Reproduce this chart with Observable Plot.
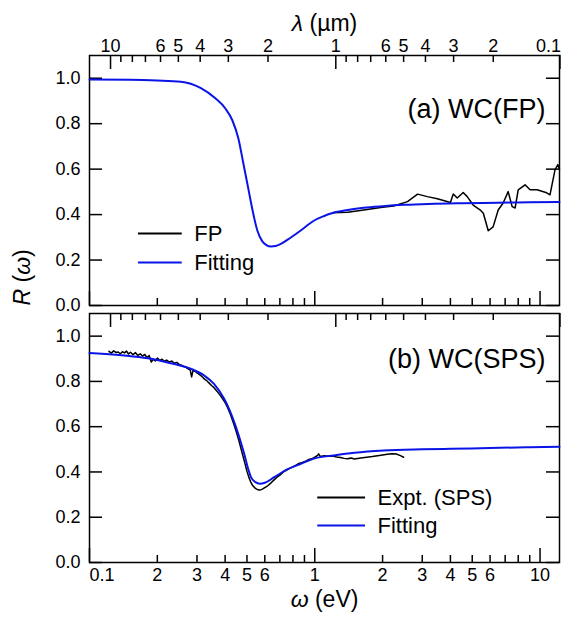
<!DOCTYPE html>
<html><head><meta charset="utf-8">
<script src="https://cdn.jsdelivr.net/npm/d3@7"></script>
<script src="https://cdn.jsdelivr.net/npm/@observablehq/plot@0.6"></script>
<style>
body{margin:0;background:#fff;}
#chart{position:relative;width:561px;height:621px;font-family:"Liberation Sans",Arial,sans-serif;}
#chart svg{position:absolute;left:0;overflow:visible;background:transparent;}
</style></head><body><div id="chart"></div><script>
const hc = 1.23984; // eV·µm

// ---- Panel (a): FP data and fit ----
const fitA_w = [0.1,0.15,0.2,0.254,0.311,0.362,0.401,0.431,0.458,0.482,0.508,0.529,0.556,0.585,0.61,0.64,0.67,0.704,0.78,0.866,0.93,0.99,1.1,1.2,1.4,1.65,2.0,2.5,3.2,4.5,6.5,9,12.2];
const fitA_R = [0.994,0.993,0.99,0.985,0.958,0.912,0.867,0.814,0.735,0.625,0.51,0.42,0.33,0.282,0.266,0.26,0.262,0.27,0.298,0.33,0.354,0.373,0.394,0.407,0.42,0.43,0.437,0.443,0.447,0.45,0.452,0.454,0.455];
const fpW = [1.2,1.4,1.65,2.0,2.24,2.58,2.86,3.16,3.5,4.0,4.12,4.29,4.56,4.75,5.05,5.43,5.6,5.89,6.19,6.52,6.86,7.22,7.52,7.75,8.0,8.58,9.03,9.7,10.7,11.07,11.65,12.0,12.2];
const fpR = [0.408,0.41,0.42,0.432,0.438,0.457,0.49,0.479,0.47,0.453,0.491,0.473,0.497,0.479,0.442,0.42,0.406,0.329,0.346,0.42,0.451,0.501,0.435,0.429,0.509,0.531,0.509,0.509,0.496,0.487,0.597,0.62,0.6];

// ---- Panel (b): SPS data and fit ----
const fitB_w = [0.1,0.15,0.188,0.23,0.283,0.323,0.357,0.396,0.42,0.447,0.47,0.486,0.504,0.521,0.545,0.57,0.6,0.661,0.75,0.867,1.0,1.214,1.5,2.02,3.0,4.0,6,9,12.2];
const fitB_R = [0.925,0.912,0.9,0.88,0.855,0.826,0.789,0.723,0.67,0.598,0.53,0.48,0.42,0.377,0.355,0.348,0.352,0.377,0.41,0.436,0.46,0.473,0.485,0.495,0.5,0.502,0.506,0.509,0.511];
const spsW = [0.122,0.125,0.128,0.131,0.134,0.137,0.14,0.143,0.146,0.149,0.152,0.156,0.16,0.164,0.168,0.172,0.176,0.18,0.184,0.188,0.192,0.196,0.2,0.205,0.21,0.215,0.22,0.226,0.232,0.238,0.244,0.25,0.256,0.262,0.268,0.274,0.28,0.284,0.288,0.294,0.3,0.306,0.312,0.318,0.324,0.33,0.336,0.342,0.348,0.354,0.36,0.368,0.376,0.384,0.392,0.4,0.41,0.42,0.43,0.44,0.45,0.46,0.47,0.48,0.49,0.5,0.51,0.52,0.53,0.54,0.55,0.56,0.57,0.58,0.59,0.6,0.62,0.64,0.66,0.68,0.7,0.73,0.76,0.79,0.82,0.85,0.88,0.91,0.94,0.97,1.0,1.03,1.04,1.06,1.1,1.15,1.2,1.25,1.3,1.35,1.4,1.45,1.5,1.6,1.7,1.8,1.9,2.0,2.1,2.2,2.3,2.4,2.48];
const spsR = [0.933,0.925,0.935,0.928,0.93,0.922,0.931,0.926,0.934,0.921,0.929,0.918,0.927,0.915,0.922,0.912,0.919,0.905,0.914,0.886,0.898,0.89,0.903,0.893,0.898,0.889,0.894,0.885,0.89,0.88,0.884,0.875,0.872,0.866,0.862,0.855,0.85,0.82,0.848,0.845,0.838,0.832,0.826,0.818,0.81,0.805,0.797,0.79,0.782,0.776,0.768,0.757,0.745,0.733,0.72,0.706,0.685,0.66,0.632,0.603,0.572,0.54,0.505,0.47,0.437,0.403,0.376,0.355,0.34,0.331,0.325,0.321,0.32,0.322,0.326,0.331,0.34,0.352,0.365,0.377,0.386,0.402,0.412,0.42,0.428,0.438,0.442,0.447,0.455,0.458,0.465,0.473,0.48,0.468,0.472,0.469,0.47,0.466,0.464,0.46,0.458,0.462,0.457,0.462,0.465,0.468,0.472,0.475,0.478,0.48,0.479,0.472,0.465];

// ---- Ticks ----
const omegaLabelTicks = [0.2,0.3,0.4,0.5,0.6,1,2,3,4,5,6,10];
const omegaEdgeLabel = [0.1];
const omegaMajor = [0.1,1,10];
const omegaMinor = [0.2,0.3,0.4,0.5,0.6,0.7,0.8,0.9,2,3,4,5,6,7,8,9];
const lambdaLabelTicks = [10,6,5,4,3,2,1,0.6,0.5,0.4,0.3,0.2];
const lambdaEdgeLabel = [0.1];
const lambdaMajor = [10,1,0.1];
const lambdaMinor = [9,8,7,6,5,4,3,2,0.9,0.8,0.7,0.6,0.5,0.4,0.3,0.2];
const yTicks = [0,0.2,0.4,0.6,0.8,1.0];

const BLUE = "#0a14e6";
const legendA = [{label:"FP", color:"black"},{label:"Fitting", color:BLUE}];
const legendB = [{label:"Expt. (SPS)", color:"black"},{label:"Fitting", color:BLUE}];

const W = 561, ML = 89, MR = 2, PW = W - ML - MR;
const X_DOMAIN = [0.1, 12.2];
const Y_DOMAIN = [0, 1.1];
const MAJ = 14, MIN = 7, YT = 13;
const FONT = "Liberation Sans, Arial, sans-serif";
const TICKFS = 18, LEGFS = 22, TITLEFS = 27, AXFS = 23;

const toRows = (ws, rs) => ws.map((w, i) => ({w, R: rs[i]}));
const decFmt = d => d < 1 ? String(Math.round(d * 10)) : String(d);
const lam = l => hc / l;

function frameMarks(PH) {
  const m = [];
  m.push(Plot.frame({stroke: "black", strokeWidth: 1.5}));
  m.push(Plot.tickX(omegaMajor, {x: d => d, insetTop: PH - MAJ, stroke: "black", strokeWidth: 1.5}));
  m.push(Plot.tickX(omegaMinor, {x: d => d, insetTop: PH - MIN, stroke: "black", strokeWidth: 1.5}));
  m.push(Plot.tickX(lambdaMajor, {x: lam, insetBottom: PH - MAJ, stroke: "black", strokeWidth: 1.5}));
  m.push(Plot.tickX(lambdaMinor, {x: lam, insetBottom: PH - MIN, stroke: "black", strokeWidth: 1.5}));
  m.push(Plot.tickY(yTicks, {y: d => d, insetRight: PW - YT, stroke: "black", strokeWidth: 1.5}));
  m.push(Plot.tickY(yTicks, {y: d => d, insetLeft: PW - YT, stroke: "black", strokeWidth: 1.5}));
  m.push(Plot.text(yTicks, {y: d => d, text: d3.format(".1f"), frameAnchor: "left", dx: -9, textAnchor: "end", fontSize: TICKFS, fill: "black"}));
  return m;
}

function legendMarks(rows, x1, x2, ys) {
  const data = rows.map((r, i) => ({...r, y: ys[i]}));
  return [
    Plot.ruleY(data, {y: "y", x1: () => x1, x2: () => x2, stroke: "color", strokeWidth: 2}),
    Plot.text(data, {x: () => x2, y: "y", text: "label", textAnchor: "start", dx: 12, fontSize: LEGFS, fill: "black"})
  ];
}

// ---------- top panel ----------
const PH_A = 250;
const plotA = Plot.plot({
  width: W, height: 309, marginLeft: ML, marginRight: MR, marginTop: 55, marginBottom: 4,
  style: {fontFamily: FONT, background: "transparent", overflow: "visible"},
  x: {type: "log", domain: X_DOMAIN, axis: null},
  y: {domain: Y_DOMAIN, axis: null},
  color: {type: "identity"},
  marks: [
    ...frameMarks(PH_A),
    Plot.text(lambdaLabelTicks, {x: lam, text: decFmt, frameAnchor: "top", dy: -16, fontSize: TICKFS, fill: "black"}),
    Plot.text(lambdaEdgeLabel, {x: lam, text: d => String(d), frameAnchor: "top", dy: -16, textAnchor: "end", fontSize: TICKFS, fill: "black"}),
    Plot.text(["λ (µm)"], {text: d => d, frameAnchor: "top", dy: -41, fontSize: AXFS, fill: "black"}),
    Plot.text(["(a) WC(FP)"], {text: d => d, frameAnchor: "top-right", dx: -14, dy: 43, textAnchor: "end", fontSize: TITLEFS, fill: "black"}),
    Plot.text(["R (ω)"], {text: d => d, frameAnchor: "bottom-left", dx: -60, dy: 0, rotate: -90, fontSize: AXFS, fill: "black"}),
    ...legendMarks(legendA, 0.165, 0.258, [0.317, 0.189]),
    Plot.line(toRows(fpW, fpR), {x: "w", y: "R", stroke: "black", strokeWidth: 1.5}),
    Plot.line(toRows(fitA_w, fitA_R), {x: "w", y: "R", stroke: BLUE, strokeWidth: 2, curve: "monotone-x"})
  ]
});
plotA.style.top = "0px";

// ---------- bottom panel ----------
const PH_B = 249;
const plotB = Plot.plot({
  width: W, height: 312, marginLeft: ML, marginRight: MR, marginTop: 4, marginBottom: 59,
  style: {fontFamily: FONT, background: "transparent", overflow: "visible"},
  x: {type: "log", domain: X_DOMAIN, axis: null},
  y: {domain: Y_DOMAIN, axis: null},
  color: {type: "identity"},
  marks: [
    ...frameMarks(PH_B),
    Plot.text(omegaLabelTicks, {x: d => d, text: decFmt, frameAnchor: "bottom", dy: 18, fontSize: TICKFS, fill: "black"}),
    Plot.text(omegaEdgeLabel, {x: d => d, text: d => String(d), frameAnchor: "bottom", dy: 18, textAnchor: "start", fontSize: TICKFS, fill: "black"}),
    Plot.text(["ω (eV)"], {text: d => d, frameAnchor: "bottom", dy: 44, fontSize: AXFS, fill: "black"}),
    Plot.text(["(b) WC(SPS)"], {text: d => d, frameAnchor: "top-right", dx: -14, dy: 35, textAnchor: "end", fontSize: TITLEFS, fill: "black"}),
    ...legendMarks(legendB, 1.031, 1.68, [0.287, 0.163]),
    Plot.line(toRows(spsW, spsR), {x: "w", y: "R", stroke: "black", strokeWidth: 1.5}),
    Plot.line(toRows(fitB_w, fitB_R), {x: "w", y: "R", stroke: BLUE, strokeWidth: 2, curve: "monotone-x"})
  ]
});
plotB.style.top = "309px";

const chart = document.getElementById("chart");
chart.appendChild(plotA);
chart.appendChild(plotB);

function richify(svg, plain, parts) {
  d3.select(svg).selectAll("text").filter(function(){ return this.textContent === plain; }).each(function(){
    const t = d3.select(this);
    t.text(null);
    parts.forEach(([s, it]) => t.append("tspan").attr("font-style", it ? "italic" : null).text(s));
  });
}
richify(plotA, "λ (µm)", [["λ", true], [" (µm)", false]]);
richify(plotA, "R (ω)", [["R", true], [" (", false], ["ω", true], [")", false]]);
richify(plotB, "ω (eV)", [["ω", true], [" (eV)", false]]);
</script></body></html>
